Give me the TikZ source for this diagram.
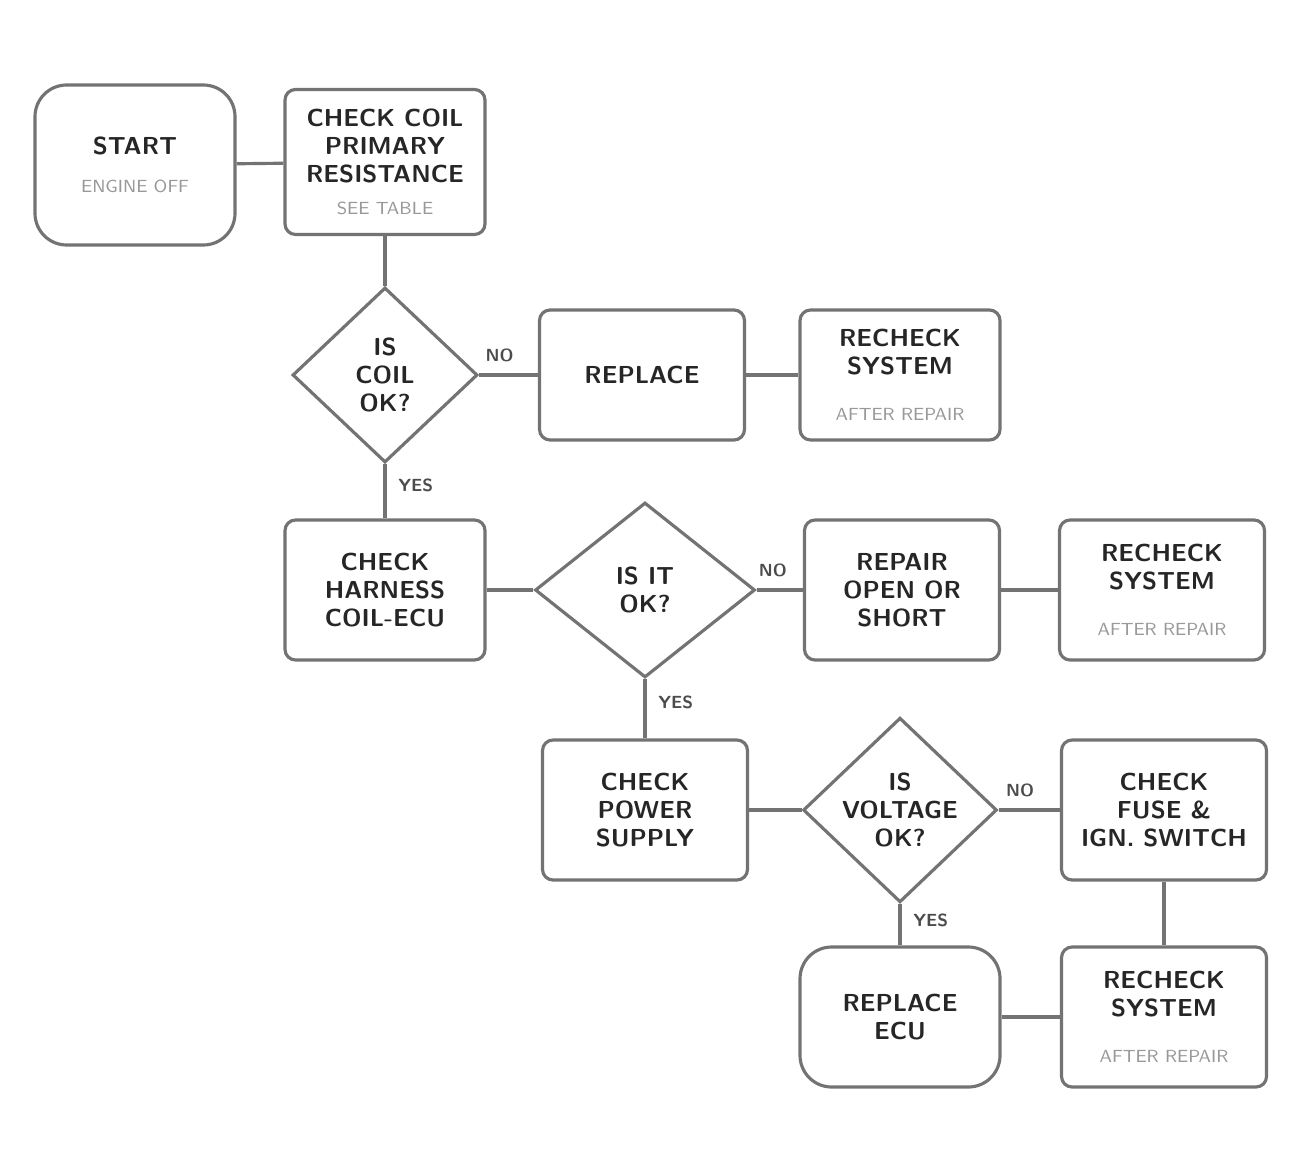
\documentclass[tikz,border=0pt]{standalone}
\usepackage{xcolor}
\usepackage{tikz}
\usetikzlibrary{shapes,arrows,positioning,calc,arrows.meta}

\tikzset{
  stepbox/.style={draw=black!55, line width=0.9pt, rounded corners=3pt, align=center,
    minimum width=2cm, minimum height=1.4cm, font=\sffamily\bfseries\scriptsize, text=black!85},
  endbox/.style={stepbox, rounded corners=9pt},
  query/.style={draw=black!55, line width=0.9pt, diamond, aspect=1.05, align=center, inner sep=0pt,
    minimum width=1.85cm, minimum height=1.75cm, font=\sffamily\bfseries\scriptsize, text=black!85},
  flow/.style={draw=black!55, line width=0.9pt},
  tag/.style={font=\sffamily\bfseries\tiny, text=black!70}
}
\newcommand{\subnote}[1]{{\mdseries\tiny\color{black!40}#1}}

\begin{document}
\begin{tikzpicture}
    \useasboundingbox (0,0) rectangle (13.09,-11.67);

    % top row
    \node[endbox, minimum height=1.6cm] (start) at (1.35,-1.65) {START\\[3pt] \subnote{ENGINE OFF}};
    \node[stepbox, minimum height=1.45cm] (chkcoil) at (3.85,-1.62) {CHECK COIL\\ PRIMARY\\ RESISTANCE\\[1pt] \subnote{SEE TABLE}};

    % first query
    \node[query] (q1) at (3.85,-3.75) {IS\\ COIL\\ OK?};
    \node[stepbox, minimum width=2.05cm, minimum height=1.3cm] (repcoil) at (6.42,-3.75) {REPLACE};
    \node[stepbox, minimum height=1.3cm] (recheck1) at (9.0,-3.75) {RECHECK\\ SYSTEM\\[5pt] \subnote{AFTER REPAIR}};

    % second row
    \node[stepbox] (chkwire) at (3.85,-5.9) {CHECK\\ HARNESS\\ COIL-ECU};
    \node[query, minimum width=2.2cm] (q2) at (6.45,-5.9) {IS IT\\ OK?};
    \node[stepbox, minimum width=1.95cm] (repwire) at (9.02,-5.9) {REPAIR\\ OPEN OR\\ SHORT};
    \node[stepbox, minimum width=2.05cm] (recheck2) at (11.62,-5.9) {RECHECK\\ SYSTEM\\[5pt] \subnote{AFTER REPAIR}};

    % third row
    \node[stepbox, minimum width=2.05cm] (chkpower) at (6.45,-8.1) {CHECK\\ POWER\\ SUPPLY};
    \node[query, minimum width=1.9cm, minimum height=1.7cm] (q3) at (9.0,-8.1) {IS\\ VOLTAGE\\ OK?};
    \node[stepbox, minimum width=2.05cm] (repfuse) at (11.64,-8.1) {CHECK\\ FUSE \&\\ IGN. SWITCH};

    % bottom row
    \node[endbox] (repecu) at (9.0,-10.17) {REPLACE\\ ECU};
    \node[stepbox, minimum width=2.05cm] (recheck3) at (11.64,-10.17) {RECHECK\\ SYSTEM\\[5pt] \subnote{AFTER REPAIR}};

    % connectors
    \draw[flow] (start) -- (chkcoil);
    \draw[flow] (chkcoil) -- (q1);
    \draw[flow] (q1) -- node[tag, above, pos=0.35] {NO} (repcoil);
    \draw[flow] (repcoil) -- (recheck1);
    \draw[flow] (q1) -- node[tag, right, pos=0.4] {YES} (chkwire);
    \draw[flow] (chkwire) -- (q2);
    \draw[flow] (q2) -- node[tag, above, pos=0.35] {NO} (repwire);
    \draw[flow] (repwire) -- (recheck2);
    \draw[flow] (q2) -- node[tag, right, pos=0.4] {YES} (chkpower);
    \draw[flow] (chkpower) -- (q3);
    \draw[flow] (q3) -- node[tag, above, pos=0.35] {NO} (repfuse);
    \draw[flow] (repfuse) -- (recheck3);
    \draw[flow] (q3) -- node[tag, right, pos=0.4] {YES} (repecu);
    \draw[flow] (repecu) -- (recheck3);
\end{tikzpicture}
\end{document}
